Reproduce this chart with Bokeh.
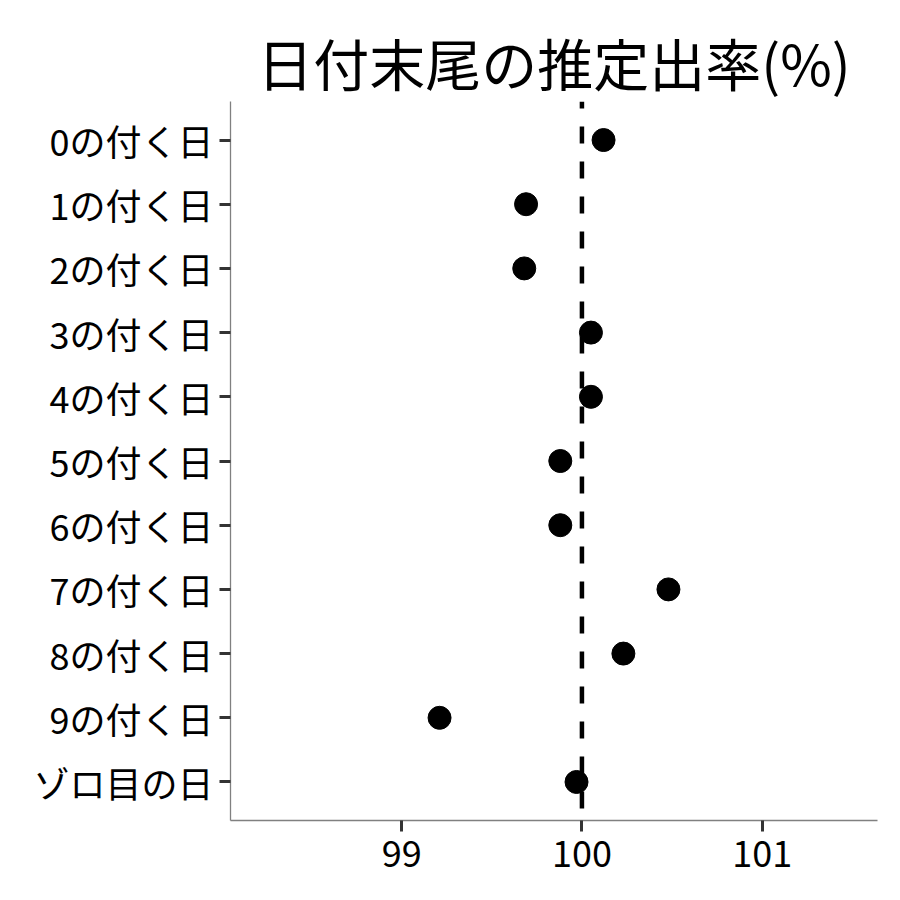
from bokeh.plotting import figure
from bokeh.models import FactorRange, Range1d, Span, FixedTicker, ColumnDataSource, Title
from bokeh.embed import file_html
from bokeh.resources import INLINE

categories = ["0の付く日", "1の付く日", "2の付く日", "3の付く日", "4の付く日",
              "5の付く日", "6の付く日", "7の付く日", "8の付く日", "9の付く日", "ゾロ目の日"]
rates = [100.12, 99.69, 99.68, 100.05, 100.05, 99.88, 99.88, 100.48, 100.23, 99.21, 99.97]
x_ticks = [99, 100, 101]
reference_rate = 100
title_text = "日付末尾の推定出率(%)"

FONT = "Noto Sans CJK JP"

src = ColumnDataSource(data=dict(cat=categories, rate=rates))

p = figure(width=892, height=892, output_backend="svg", toolbar_location=None,
           y_range=FactorRange(factors=list(reversed(categories)), range_padding=0.2 / 11),
           x_range=Range1d(98.05, 101.64),
           min_border_left=230, min_border_right=15, min_border_top=101, min_border_bottom=72)

p.title = Title(text=title_text, align="center", text_font=FONT, text_font_size="56px",
                text_font_style="normal", text_color="black", standoff=0,
                text_line_height=0.6)

p.add_layout(Span(location=reference_rate, dimension="height", line_color="black",
                  line_width=4.5, line_dash="17 18", line_dash_offset=10))

p.scatter("rate", "cat", source=src, size=23, color="black")

p.xgrid.visible = False
p.ygrid.visible = False
p.outline_line_color = None
p.background_fill_color = "white"
p.border_fill_color = "white"

p.xaxis.ticker = FixedTicker(ticks=x_ticks)
for ax in (p.xaxis[0], p.yaxis[0]):
    ax.axis_line_color = "#808080"
    ax.axis_line_width = 1.3
    ax.major_tick_line_color = "#333333"
    ax.major_tick_line_width = 3
    ax.major_tick_out = 11
    ax.major_tick_in = 0
    ax.minor_tick_line_color = None
    ax.major_label_text_font = FONT
    ax.major_label_text_font_size = "36px"
    ax.major_label_text_color = "black"
p.yaxis.major_label_standoff = 6
p.xaxis.major_label_standoff = 9

open("out.html", "w").write(file_html(p, INLINE))
